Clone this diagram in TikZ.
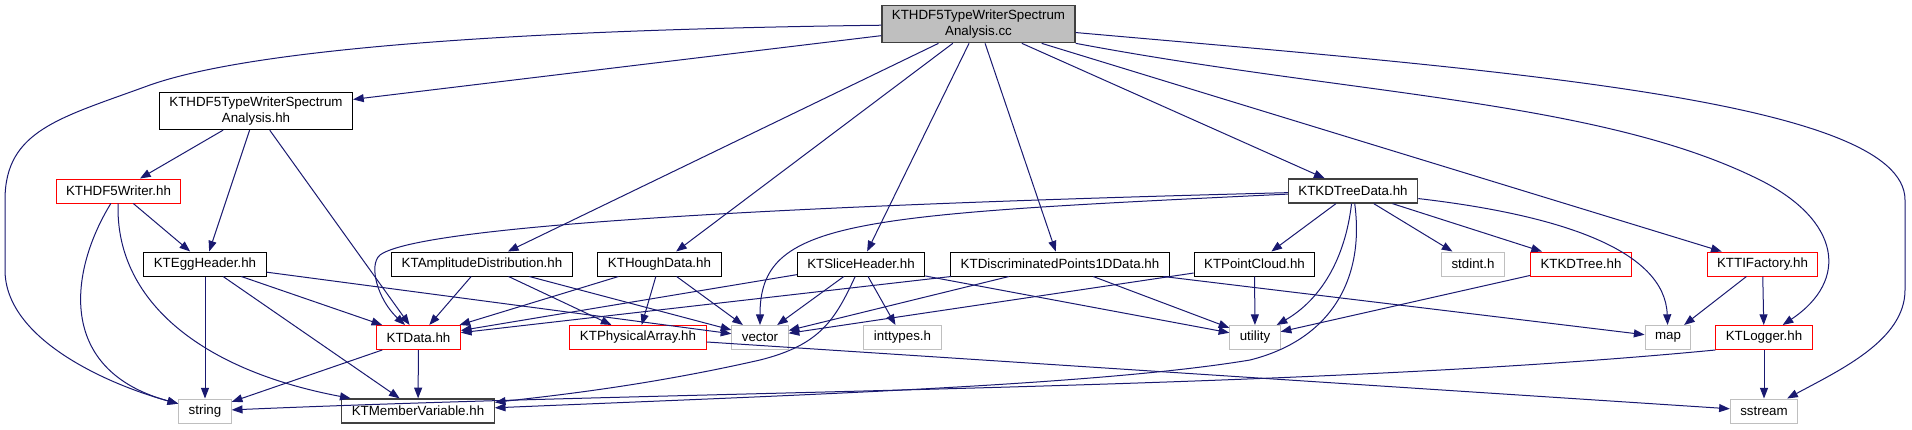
\documentclass[tikz,border=0pt]{standalone}
\usepackage{fontspec}
\setmainfont{Liberation Sans}
\usetikzlibrary{arrows.meta}
\definecolor{edgeblue}{HTML}{191970}
\definecolor{sysgray}{HTML}{BFBFBF}
\definecolor{rootline}{HTML}{404040}
\tikzset{
  file/.style={draw=black, fill=white, line width=0.75pt, minimum height=18pt,
    inner xsep=7.5pt, inner ysep=1pt, font=\fontsize{10}{12}\selectfont},
  twoline/.style={align=center, minimum height=28pt},
  redfile/.style={file, draw=red},
  sysfile/.style={file, draw=sysgray},
  darkfile/.style={file, draw=rootline, line width=1pt},
  rootfile/.style={file, twoline, fill=sysgray, draw=rootline, line width=1pt},
  dep/.style={draw=edgeblue, line width=0.75pt, -{Triangle[length=8pt,width=6pt]}},
}
\begin{document}
\begin{tikzpicture}[x=0.75pt,y=-0.75pt]
  \useasboundingbox (0,0) rectangle (1912,429);
  % files
  \node[rootfile] (root) at (978.5,24) {KTHDF5TypeWriterSpectrum\\Analysis.cc};
  \node[file, twoline] (hh) at (256,111) {KTHDF5TypeWriterSpectrum\\Analysis.hh};
  \node[redfile] (writer) at (118.5,191) {KTHDF5Writer.hh};
  \node[darkfile] (kdtd) at (1353,191) {KTKDTreeData.hh};
  \node[file] (egg) at (205,264) {KTEggHeader.hh};
  \node[file] (ampl) at (482,264) {KTAmplitudeDistribution.hh};
  \node[file] (hough) at (659.5,264) {KTHoughData.hh};
  \node[file] (slice) at (861,264) {KTSliceHeader.hh};
  \node[file] (discr) at (1060,264) {KTDiscriminatedPoints1DData.hh};
  \node[file] (cloud) at (1254.5,264) {KTPointCloud.hh};
  \node[sysfile] (stdint) at (1473,264) {stdint.h};
  \node[redfile] (kdtree) at (1581,264) {KTKDTree.hh};
  \node[redfile] (tif) at (1762.5,264) {KTTIFactory.hh};
  \node[redfile] (ktdata) at (418.5,337.5) {KTData.hh};
  \node[redfile] (phys) at (638,337.5) {KTPhysicalArray.hh};
  \node[sysfile] (vector) at (760,337.5) {vector};
  \node[sysfile] (inttypes) at (902.5,337.5) {inttypes.h};
  \node[sysfile] (utility) at (1255,337.5) {utility};
  \node[sysfile] (map) at (1668,337.5) {map};
  \node[redfile] (logger) at (1764,337.5) {KTLogger.hh};
  \node[sysfile] (string) at (205,411) {string};
  \node[darkfile] (member) at (418,411) {KTMemberVariable.hh};
  \node[sysfile] (sstream) at (1764,411) {sstream};

  % includes of the .cc
  \draw[dep] (root) .. controls (500,30) and (250,50) .. (150,85)
    .. controls (60,118) and (5,130) .. (5,200) -- (5,270)
    .. controls (5,340) and (110,385) .. (string);
  \draw[dep] (root) -- (hh);
  \draw[dep] (root) -- (ampl);
  \draw[dep] (root) -- (hough);
  \draw[dep] (root) -- (slice);
  \draw[dep] (root) -- (discr);
  \draw[dep] (root) -- (kdtd);
  \draw[dep] (root) -- (tif);
  \draw[dep] (root.south east) .. controls (1350,95) and (1600,100) .. (1760,180)
    .. controls (1840,220) and (1850,280) .. (logger);
  \draw[dep] (root) .. controls (1500,70) and (1905,100) .. (1905,200) -- (1905,290)
    .. controls (1905,340) and (1840,370) .. (sstream);

  % header includes
  \draw[dep] (hh) -- (writer);
  \draw[dep] (hh) -- (egg);
  \draw[dep] (hh) -- (ktdata);
  \draw[dep] (writer) -- (egg);
  \draw[dep] (writer) .. controls (70,270) and (55,370) .. (string);
  \draw[dep] (writer) .. controls (115,300) and (200,370) .. (member);
  \draw[dep] (egg) -- (string);
  \draw[dep] (egg) -- (ktdata);
  \draw[dep] (egg) -- (member);
  \draw[dep] (egg) -- (vector);
  \draw[dep] (ampl) -- (ktdata);
  \draw[dep] (ampl) -- (phys);
  \draw[dep] (ampl) -- (vector);
  \draw[dep] (hough) -- (ktdata);
  \draw[dep] (hough) -- (phys);
  \draw[dep] (hough) -- (vector);
  \draw[dep] (slice) -- (ktdata);
  \draw[dep] (slice) -- (vector);
  \draw[dep] (slice) -- (inttypes);
  \draw[dep] (slice) -- (utility);
  \draw[dep] (slice) .. controls (835,320) and (820,345) .. (760,360)
    .. controls (650,385) and (560,395) .. (member);
  \draw[dep] (discr) -- (ktdata);
  \draw[dep] (discr) -- (vector);
  \draw[dep] (discr) -- (utility);
  \draw[dep] (discr) -- (map);
  \draw[dep] (cloud) -- (utility);
  \draw[dep] (cloud) -- (vector);
  \draw[dep] (kdtd) .. controls (800,205) and (420,225) .. (380,255)
    .. controls (368,265) and (378,300) .. (ktdata);
  \draw[dep] (kdtd) .. controls (850,215) and (760,220) .. (vector);
  \draw[dep] (kdtd) -- (cloud);
  \draw[dep] (kdtd) .. controls (1345,260) and (1320,300) .. (utility);
  \draw[dep] (kdtd) .. controls (1365,280) and (1330,340) .. (1250,360)
    .. controls (1100,385) and (800,395) .. (member);
  \draw[dep] (kdtd) -- (stdint);
  \draw[dep] (kdtd) -- (kdtree);
  \draw[dep] (kdtd) .. controls (1560,215) and (1665,250) .. (map);
  \draw[dep] (kdtree) -- (utility);
  \draw[dep] (tif) -- (map);
  \draw[dep] (tif) -- (logger);
  \draw[dep] (ktdata) -- (string);
  \draw[dep] (ktdata) -- (member);
  \draw[dep] (phys) -- (sstream);
  \draw[dep] (logger) -- (sstream);
  \draw[dep] (logger.south west) .. controls (1300,390) and (700,390) .. (string);
\end{tikzpicture}
\end{document}
